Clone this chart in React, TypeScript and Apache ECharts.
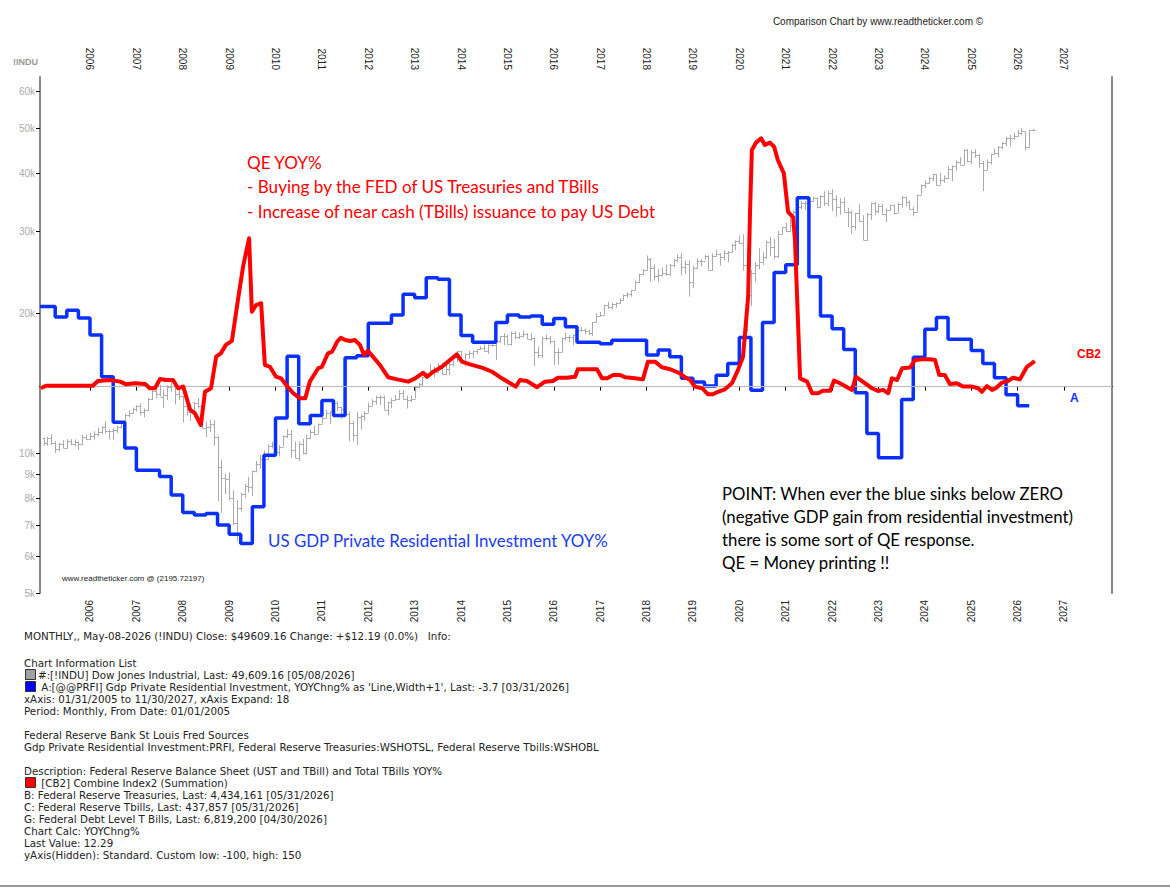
import React, { useEffect, useRef } from 'react';
import * as echarts from 'echarts';

// ---------- DATA ----------
const X_MIN = 2004.922; // 01/31/2005 area
const X_MAX = 2028.035; // 11/30/2027 + expand
const YEAR_TICKS = [2006, 2007, 2008, 2009, 2010, 2011, 2012, 2013, 2014, 2015, 2016, 2017, 2018, 2019, 2020, 2021, 2022, 2023, 2024, 2025, 2026, 2027];
const DOW_TICKS = [5000, 6000, 7000, 8000, 9000, 10000, 20000, 30000, 40000, 50000, 60000];
const DOW_MIN = 5000;
const DOW_MAX = 64440;

// Dow Jones monthly bars from Jan 2005
const DOW_START_YEAR = 2005;
const DOW_OPEN0 = 10783;
const DOW_HIGH = [
  10800, 10841, 10984, 10609, 10542, 10654, 10705, 10720, 10700, 10594, 10931, 10954,
  11043, 11137, 11335, 11425, 11709, 11250, 11293, 11465, 11728, 12167, 12361, 12529,
  12686, 12795, 12478, 13133, 13692, 13703, 14021, 13657, 14000, 14198, 14041, 13769,
  13279, 12768, 12622, 12891, 13136, 12657, 11697, 11808, 11790, 10882, 9654, 9026,
  9088, 8315, 7924, 8209, 8588, 8878, 9172, 9621, 9918, 10119, 10450, 10580,
  10729, 10402, 10907, 11258, 11205, 10594, 10584, 10720, 10948, 11247, 11451, 11585,
  11986, 12391, 12283, 12876, 12929, 12570, 12753, 12284, 11717, 12284, 12107, 12294,
  12842, 13055, 13289, 13338, 13280, 12898, 13117, 13330, 13653, 13661, 13290, 13300,
  13969, 14150, 14585, 14888, 15542, 15340, 15634, 15658, 15710, 15710, 16174, 16588,
  16588, 16398, 16631, 16606, 16736, 16978, 17152, 17153, 17350, 17395, 17895, 18103,
  17951, 18244, 18289, 18175, 18351, 18132, 18137, 17719, 16933, 17799, 17977, 17866,
  17405, 16795, 17718, 18167, 17934, 18016, 18622, 18668, 18534, 18399, 19152, 19987,
  20125, 20851, 21169, 21070, 21112, 21535, 21929, 22179, 22420, 23485, 24327, 24876,
  26617, 26307, 25449, 24858, 25087, 25403, 25529, 26167, 26770, 26952, 25981, 25981,
  25311, 26242, 26156, 26696, 26656, 26908, 27398, 26912, 27306, 27219, 28175, 28702,
  29374, 29568, 27102, 24765, 25758, 27581, 27029, 28659, 29199, 28903, 30117, 30637,
  31272, 32010, 33259, 34257, 34777, 34849, 35172, 35631, 35468, 35892, 36566, 36680,
  36953, 35825, 35372, 35492, 33715, 33272, 32910, 34281, 32504, 32832, 34595, 34712,
  34342, 34335, 33572, 34257, 34257, 34589, 35679, 35580, 34977, 33899, 35995, 37778,
  38561, 39282, 39889, 39889, 40077, 39581, 41376, 41585, 42628, 43325, 45071, 45074,
  44882, 45054, 44034, 42500, 42843, 44095, 45207, 45757, 46714, 47944, 48431, 48900,
  49600, 50000, 49100, 49600, 49800,
];
const DOW_LOW = [
  10368, 10368, 10404, 10013, 10095, 10250, 10247, 10390, 10319, 10156, 10405, 10684,
  10661, 10689, 10870, 10984, 11008, 10699, 10683, 11045, 11297, 11651, 11950, 12145,
  12291, 12050, 11939, 12331, 13016, 13102, 13254, 12518, 13017, 13551, 12724, 13016,
  11634, 12035, 11731, 12187, 12479, 11288, 10827, 11111, 10365, 7882, 7449, 8149,
  7909, 7000, 6470, 7492, 8012, 8221, 8087, 9088, 9250, 9597, 9678, 10236,
  10026, 9835, 10328, 10768, 9774, 9758, 9614, 9941, 9936, 10711, 10929, 11006,
  11578, 11892, 11555, 12093, 12304, 11862, 12093, 10604, 10597, 10404, 11231, 11735,
  12218, 12617, 12713, 12710, 12391, 12035, 12492, 12988, 13021, 13019, 12471, 12883,
  13104, 13784, 13937, 14434, 14688, 14552, 14911, 14760, 14777, 14719, 15355, 15703,
  15699, 15340, 15946, 16015, 16334, 16660, 16563, 16333, 16945, 15855, 17279, 17068,
  17136, 17037, 17585, 17585, 17744, 17596, 17465, 15370, 16013, 16013, 17477, 17139,
  15450, 15503, 16511, 17484, 17331, 17063, 17713, 18247, 17992, 17959, 17884, 19123,
  19678, 19831, 20413, 20379, 20554, 20996, 21279, 21600, 21709, 22416, 23242, 24124,
  24741, 23360, 23509, 23344, 23997, 24077, 24078, 25124, 25707, 24123, 24269, 21713,
  22639, 24882, 25209, 26050, 24813, 24680, 26513, 25339, 25978, 25744, 27087, 27325,
  28170, 24681, 18214, 20735, 23361, 24843, 25391, 26218, 26537, 26143, 26277, 29512,
  29857, 29866, 30547, 32864, 33474, 33272, 33741, 34696, 33613, 33786, 34006, 33973,
  33150, 32272, 32580, 32896, 30635, 29653, 30144, 31510, 28715, 28660, 31727, 32573,
  32812, 32500, 31430, 33235, 32586, 32908, 33705, 34029, 33493, 32327, 33053, 35971,
  37123, 38048, 38441, 37611, 37816, 38165, 38871, 38499, 40458, 41733, 41678, 42232,
  41844, 43174, 41131, 36612, 40631, 41750, 43927, 43340, 45045, 45728, 45728, 47200,
  47900, 48300, 44700, 45300, 49300,
];
const DOW_CLOSE = [
  10490, 10766, 10504, 10193, 10467, 10275, 10641, 10482, 10569, 10440, 10806, 10718,
  10865, 10993, 11109, 11367, 11168, 11150, 11186, 11381, 11679, 12081, 12222, 12463,
  12622, 12269, 12354, 13063, 13628, 13409, 13212, 13358, 13896, 13930, 13372, 13265,
  12650, 12266, 12263, 12820, 12638, 11350, 11378, 11544, 10851, 9325, 8829, 8776,
  8001, 7063, 7609, 8168, 8500, 8447, 9172, 9496, 9712, 9713, 10345, 10428,
  10067, 10325, 10857, 11009, 10137, 9774, 10466, 10015, 10788, 11118, 11006, 11578,
  11892, 12226, 12320, 12811, 12570, 12414, 12143, 11614, 10913, 11955, 12046, 12218,
  12633, 12952, 13212, 13214, 12393, 12880, 13009, 13091, 13437, 13096, 13026, 13104,
  13861, 14054, 14579, 14840, 15116, 14910, 15500, 14810, 15130, 15546, 16086, 16577,
  15699, 16322, 16458, 16581, 16717, 16827, 16563, 17098, 17043, 17391, 17828, 17823,
  17165, 18133, 17776, 17841, 18011, 17620, 17690, 16528, 16285, 17664, 17720, 17425,
  16466, 16517, 17685, 17774, 17787, 17930, 18432, 18401, 18308, 18142, 19124, 19763,
  19864, 20812, 20663, 20941, 21009, 21350, 21891, 21948, 22405, 23377, 24272, 24719,
  26149, 25029, 24103, 24163, 24416, 24271, 25415, 25965, 26458, 25116, 25538, 23327,
  24999, 25916, 25929, 26593, 24815, 26600, 26864, 26403, 26917, 27046, 28051, 28538,
  28256, 25409, 21917, 24346, 25383, 25813, 26428, 28430, 27782, 26502, 29639, 30606,
  29983, 30932, 32982, 33875, 34529, 34503, 34935, 35361, 33844, 35820, 34484, 36338,
  35132, 33893, 34678, 32977, 32990, 30775, 32845, 31510, 28726, 32733, 34590, 33147,
  34086, 32657, 33274, 34098, 32908, 34408, 35560, 34722, 33508, 33053, 35951, 37690,
  38150, 38996, 39807, 37816, 38686, 39119, 40843, 41563, 42330, 41763, 44911, 42544,
  44545, 43841, 42002, 40669, 42270, 44095, 44131, 45545, 46398, 47563, 47716, 48063,
  48900, 49400, 45500, 49597, 49609.16,
];

// A: Gdp Private Residential Investment YOY% (quarterly from 2005 Q1)
const BLUE_START_YEAR = 2005;
const BLUE_Q = [
  15.5, 13.5, 14.8, 13.3, 10.0, 1.9, -6.9, -11.9, -16.2, -16.2,
  -17.4, -21.0, -24.4, -24.9, -24.6, -26.8, -28.6, -30.4, -23.3, -13.3,
  -6.1, 5.9, -7.2, -5.6, -2.7, -5.6, 5.6, 6.0, 12.3, 12.3,
  13.9, 17.9, 17.2, 21.1, 20.8, 13.9, 9.9, 8.6, 8.6, 12.4,
  13.9, 13.5, 13.7, 12.1, 13.2, 11.6, 8.6, 8.6, 8.3, 9.0,
  9.0, 9.0, 6.1, 7.1, 5.8, 1.6, 0.9, 0.1, 2.2, 4.5,
  9.5, -0.7, 12.4, 22.1, 23.6, 36.6, 21.3, 13.7, 11.2, 7.2,
  -1.2, -9.1, -13.8, -13.8, -2.5, 5.7, 11.1, 13.4, 9.2, 9.2,
  7.0, 4.5, 1.7, -1.6, -3.7,
];

// CB2: Combine Index2 (Fed Treasuries + Fed TBills + TBills) YOY% [decimal year, value]
const RED: [number, number][] = [
  [2004.94, -0.8], [2005.05, 0.4], [2006.06, 0.4], [2006.17, 2.7], [2006.43, 3.2], [2006.65, 2.4],
  [2006.78, 1.1], [2006.97, 1.6], [2007.19, 1.3], [2007.29, -0.8], [2007.40, -0.8], [2007.51, 3.7],
  [2007.64, 3.2], [2007.79, 3.2], [2007.90, -0.8], [2008.01, 0.0], [2008.16, -11.3], [2008.26, -12.9],
  [2008.39, -18.6], [2008.48, -2.5], [2008.61, -0.8], [2008.72, 14.5], [2008.82, 16.1], [2008.93, 20.2],
  [2009.06, 22.2], [2009.19, 42.0], [2009.30, 58.1], [2009.43, 71.9], [2009.49, 36.3], [2009.58, 39.5],
  [2009.69, 40.4], [2009.77, 10.5], [2009.88, 9.6], [2010.01, 4.8], [2010.12, 4.0], [2010.23, 0.8],
  [2010.38, -3.2], [2010.53, -5.7], [2010.64, -5.7], [2010.74, 2.4], [2010.92, 8.9], [2011.00, 9.6],
  [2011.13, 16.1], [2011.22, 16.9], [2011.33, 21.8], [2011.41, 23.7], [2011.50, 22.6], [2011.61, 22.1],
  [2011.71, 22.6], [2011.82, 20.2], [2011.91, 15.3], [2011.99, 17.4], [2012.10, 14.5], [2012.25, 10.5],
  [2012.43, 4.5], [2012.62, 3.5], [2012.86, 2.4], [2013.01, 4.0], [2013.18, 6.7], [2013.27, 4.8],
  [2013.40, 7.2], [2013.59, 9.6], [2013.76, 12.9], [2013.91, 15.6], [2014.02, 12.1], [2014.19, 10.8],
  [2014.45, 9.2], [2014.67, 7.2], [2014.88, 4.0], [2015.06, 1.6], [2015.18, 0.0], [2015.27, 3.2],
  [2015.42, 2.7], [2015.64, -0.3], [2015.81, 2.4], [2015.98, 2.7], [2016.09, 4.3], [2016.28, 4.3],
  [2016.46, 4.8], [2016.52, 8.4], [2016.93, 8.4], [2017.04, 4.0], [2017.15, 4.0], [2017.28, 5.6],
  [2017.43, 5.6], [2017.54, 4.5], [2017.75, 4.0], [2017.92, 3.5], [2018.03, 12.1], [2018.18, 12.1],
  [2018.33, 9.4], [2018.51, 8.4], [2018.72, 6.4], [2018.83, 4.5], [2018.94, 3.2], [2019.04, 0.0],
  [2019.20, -0.8], [2019.32, -3.7], [2019.43, -3.7], [2019.54, -2.5], [2019.69, -1.3], [2019.84, 1.6],
  [2019.97, 8.0], [2020.08, 14.5], [2020.19, 43.6], [2020.23, 84.0], [2020.27, 114.6], [2020.36, 118.2],
  [2020.47, 120.3], [2020.55, 117.1], [2020.66, 118.2], [2020.75, 116.2], [2020.83, 109.8], [2020.96, 103.3],
  [2021.05, 84.7], [2021.16, 82.0], [2021.20, 71.0], [2021.31, 4.0], [2021.46, 2.4], [2021.57, -3.2],
  [2021.70, -3.2], [2021.80, -2.0], [2021.96, -2.0], [2022.04, 2.9], [2022.17, 1.6], [2022.43, -1.6],
  [2022.51, 4.8], [2022.66, 2.4], [2022.86, -0.8], [2022.99, -2.1], [2023.10, -1.6], [2023.21, -3.2],
  [2023.29, 4.0], [2023.40, 3.2], [2023.51, 8.9], [2023.68, 9.2], [2023.79, 12.9], [2023.94, 13.2],
  [2024.11, 13.2], [2024.22, 12.9], [2024.31, 5.6], [2024.43, 5.6], [2024.54, 1.3], [2024.69, 1.6],
  [2024.82, 0.0], [2025.02, 0.0], [2025.15, -0.8], [2025.23, -2.5], [2025.34, 0.3], [2025.45, -1.6],
  [2025.53, -0.8], [2025.66, 1.9], [2025.79, 2.7], [2025.90, 4.3], [2026.05, 3.5], [2026.20, 9.6],
  [2026.37, 12.29],
];

const RED_AXIS = [-100, 150];
const BLUE_AXIS = [-40, 60];

const INFO_LINES: [number, string][] = [
  [636, 'MONTHLY,, May-08-2026 (!INDU) Close: $49609.16 Change: +$12.19 (0.0%)   Info:'],
  [663, 'Chart Information List'],
  [699, 'xAxis: 01/31/2005 to 11/30/2027, xAxis Expand: 18'],
  [711, 'Period: Monthly, From Date: 01/01/2005'],
  [735, 'Federal Reserve Bank St Louis Fred Sources'],
  [747, 'Gdp Private Residential Investment:PRFI, Federal Reserve Treasuries:WSHOTSL, Federal Reserve Tbills:WSHOBL'],
  [771, 'Description: Federal Reserve Balance Sheet (UST and TBill) and Total TBills YOY%'],
  [795, 'B: Federal Reserve Treasuries, Last: 4,434,161 [05/31/2026]'],
  [807, 'C: Federal Reserve Tbills, Last: 437,857 [05/31/2026]'],
  [819, 'G: Federal Debt Level T Bills, Last: 6,819,200 [04/30/2026]'],
  [831, 'Chart Calc: YOYChng%'],
  [843, 'Last Value: 12.29'],
  [855, 'yAxis(Hidden): Standard. Custom low: -100, high: 150'],
];
const LEGEND_LINES: [number, string, string][] = [
  [675, '#a0a0a0', '#:[!INDU] Dow Jones Industrial, Last: 49,609.16 [05/08/2026]'],
  [687, '#0000ff', ' A:[@@PRFI] Gdp Private Residential Investment, YOYChng% as \'Line,Width+1\', Last: -3.7 [03/31/2026]'],
  [783, '#ff0000', ' [CB2] Combine Index2 (Summation)'],
];

const RED_NOTE = ['QE YOY%', '- Buying by the FED of US Treasuries and TBills', '- Increase of near cash (TBills) issuance to pay US Debt'];
const BLUE_NOTE = 'US GDP Private Residential Investment YOY%';
const BLACK_NOTE = [
  'POINT: When ever the blue sinks below ZERO',
  '(negative GDP gain from residential investment)',
  'there is some sort of QE response.',
  'QE = Money printing !!',
];

// ---------- CHART ----------
export default function App() {
  const ref = useRef<HTMLDivElement>(null);

  useEffect(() => {
    if (!ref.current) return;
    const chart = echarts.init(ref.current, null, { renderer: 'svg' });

    const dowData = DOW_CLOSE.map((c, i) => {
      const o = i === 0 ? DOW_OPEN0 : DOW_CLOSE[i - 1];
      return [
        DOW_START_YEAR + i / 12,
        Math.log10(o),
        Math.log10(DOW_HIGH[i]),
        Math.log10(DOW_LOW[i]),
        Math.log10(c),
      ];
    });

    const blueData: number[][] = [[X_MIN, BLUE_Q[0]]];
    BLUE_Q.forEach((v, i) => blueData.push([BLUE_START_YEAR + i * 0.25, v]));
    blueData.push([BLUE_START_YEAR + BLUE_Q.length * 0.25, BLUE_Q[BLUE_Q.length - 1]]);

    const noteFont = 'Lato, "Noto Sans", sans-serif';
    const infoFont = '"DejaVu Sans", Verdana, sans-serif';
    const infoSize = '10.3px ';
    const graphics: any[] = [
      { type: 'text', x: 878, y: 21, style: { text: 'Comparison Chart by www.readtheticker.com ©', font: '10px "Liberation Sans", Arial', fill: '#222', align: 'center', verticalAlign: 'middle' } },
      { type: 'text', x: 13, y: 62, style: { text: '!INDU', font: 'bold 9px "Liberation Sans", Arial', fill: '#999', align: 'left', verticalAlign: 'middle' } },
      { type: 'text', x: 62, y: 578, style: { text: 'www.readtheticker.com @ (2195.72197)', font: '8px "Liberation Sans", Arial', fill: '#222', align: 'left', verticalAlign: 'middle' } },
      { type: 'text', x: 1077, y: 354, style: { text: 'CB2', font: 'bold 12px "Liberation Sans", Arial', fill: '#ff0000', align: 'left', verticalAlign: 'middle' } },
      { type: 'text', x: 1070, y: 398, style: { text: 'A', font: 'bold 12px "Liberation Sans", Arial', fill: '#1030ff', align: 'left', verticalAlign: 'middle' } },
      { type: 'text', x: 268, y: 540, style: { text: BLUE_NOTE, font: '16.9px ' + noteFont, fill: '#1a3cf0', align: 'left', verticalAlign: 'middle' } },
      { type: 'line', shape: { x1: 0, y1: 886, x2: 1170, y2: 886 }, style: { stroke: '#999', lineWidth: 2 } },
    ];
    RED_NOTE.forEach((t, i) => graphics.push({ type: 'text', x: 247, y: 162 + i * 24.5, style: { text: t, font: '17.1px ' + noteFont, fill: '#ff0000', align: 'left', verticalAlign: 'middle' } }));
    BLACK_NOTE.forEach((t, i) => graphics.push({ type: 'text', x: 722, y: 493 + i * 23.3, style: { text: t, font: '16.8px ' + noteFont, fill: '#000', align: 'left', verticalAlign: 'middle' } }));
    INFO_LINES.forEach(([y, t]) => graphics.push({ type: 'text', x: 24, y, style: { text: t, font: infoSize + infoFont, fill: '#222', align: 'left', verticalAlign: 'middle' } }));
    LEGEND_LINES.forEach(([y, col, t]) => {
      graphics.push({ type: 'rect', shape: { x: 25.5, y: y - 5.5, width: 10, height: 10 }, style: { fill: col, stroke: '#333', lineWidth: 1 } });
      graphics.push({ type: 'text', x: 38, y, style: { text: t, font: infoSize + infoFont, fill: '#222', align: 'left', verticalAlign: 'middle' } });
    });

    const yearLabel = (v: number) => String(Math.round(v));

    chart.setOption({
      animation: false,
      backgroundColor: '#fff',
      grid: { left: 40, right: 58, top: 77, bottom: 297, containLabel: false },
      xAxis: [
        {
          type: 'value', position: 'bottom', min: X_MIN, max: X_MAX,
          axisLine: { show: true, lineStyle: { color: '#000', width: 1 } },
          axisTick: { show: true, customValues: YEAR_TICKS, length: 4, lineStyle: { color: '#000' } },
          axisLabel: { show: true, customValues: YEAR_TICKS, rotate: 90, margin: 7, fontSize: 10, color: '#222', fontFamily: '"Liberation Sans", Arial', formatter: yearLabel },
          splitLine: { show: false },
        },
        {
          type: 'value', position: 'top', min: X_MIN, max: X_MAX,
          axisLine: { show: true, lineStyle: { color: '#000', width: 1 } },
          axisTick: { show: false },
          axisLabel: { show: true, customValues: YEAR_TICKS, rotate: -90, margin: 7, fontSize: 10, color: '#222', fontFamily: '"Liberation Sans", Arial', formatter: yearLabel },
          splitLine: { show: false },
        },
      ],
      yAxis: [
        {
          type: 'value', position: 'left', min: Math.log10(DOW_MIN), max: Math.log10(DOW_MAX),
          axisLine: { show: true, lineStyle: { color: '#888', width: 2 } },
          axisTick: { show: true, customValues: DOW_TICKS.map(Math.log10), length: 4, lineStyle: { color: '#000' } },
          axisLabel: { show: true, customValues: DOW_TICKS.map(Math.log10), fontSize: 10, color: '#aaa', fontFamily: '"Liberation Sans", Arial', margin: 5, formatter: (v: number) => Math.round(Math.pow(10, v) / 1000) + 'k' },
          splitLine: { show: false },
        },
        { type: 'value', min: RED_AXIS[0], max: RED_AXIS[1], show: false },
        {
          type: 'value', position: 'right', min: BLUE_AXIS[0], max: BLUE_AXIS[1],
          axisLine: { show: true, lineStyle: { color: '#888', width: 2 } },
          axisTick: { show: false }, axisLabel: { show: false }, splitLine: { show: false },
        },
      ],
      series: [
        {
          type: 'custom', name: '!INDU', xAxisIndex: 0, yAxisIndex: 0, data: dowData,
          encode: { x: 0, y: [1, 2, 3, 4] }, z: 2, clip: true,
          renderItem: (_p: any, api: any) => {
            const t = api.value(0);
            const o = api.coord([t, api.value(1)]);
            const h = api.coord([t, api.value(2)]);
            const l = api.coord([t, api.value(3)]);
            const c = api.coord([t, api.value(4)]);
            const x = Math.round(h[0]) + 0.5;
            const st = { stroke: '#a9a9a9', lineWidth: 1 };
            return {
              type: 'group',
              children: [
                { type: 'line', shape: { x1: x, y1: h[1], x2: x, y2: l[1] }, style: st },
                { type: 'line', shape: { x1: x - 2, y1: Math.round(o[1]) + 0.5, x2: x, y2: Math.round(o[1]) + 0.5 }, style: st },
                { type: 'line', shape: { x1: x, y1: Math.round(c[1]) + 0.5, x2: x + 2, y2: Math.round(c[1]) + 0.5 }, style: st },
              ],
            };
          },
        },
        {
          type: 'line', name: 'A', xAxisIndex: 0, yAxisIndex: 2, data: blueData, step: 'end',
          showSymbol: false, symbol: 'none', z: 4,
          lineStyle: { color: '#0a30ff', width: 3.5 },
        },
        {
          type: 'line', name: 'CB2', xAxisIndex: 0, yAxisIndex: 1, data: RED, z: 5,
          showSymbol: false, symbol: 'none',
          lineStyle: { color: '#ff0000', width: 4, join: 'round' },
          markLine: {
            silent: true, symbol: 'none', label: { show: false },
            lineStyle: { color: '#b8b8b8', width: 1, type: 'solid' },
            data: [{ yAxis: 0 }],
          },
        },
      ],
      graphic: graphics,
    });

    return () => chart.dispose();
  }, []);

  return <div ref={ref} style={{ position: 'fixed', left: 0, top: 0, width: 1170, height: 890, background: '#fff' }} />;
}
